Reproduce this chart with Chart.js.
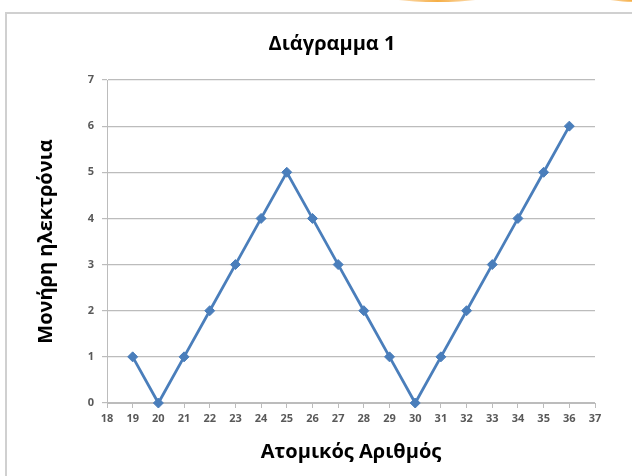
<!DOCTYPE html>
<html>
<head>
<meta charset="utf-8">
<script src="https://cdn.jsdelivr.net/npm/chart.js@4/dist/chart.umd.min.js"></script>
<style>
  html, body { margin: 0; padding: 0; background: #ffffff; }
  #wrap { position: relative; width: 632px; height: 476px; }
</style>
</head>
<body>
<div id="wrap"><canvas id="c" width="632" height="476"></canvas></div>
<script>
// Atomic number (x) and unpaired electrons (y)
const atomicNumbers = [19, 20, 21, 22, 23, 24, 25, 26, 27, 28, 29, 30, 31, 32, 33, 34, 35, 36];
const unpairedElectrons = [1, 0, 1, 2, 3, 4, 5, 4, 3, 2, 1, 0, 1, 2, 3, 4, 5, 6];
const xRange = [18, 37];
const yRange = [0, 7];

const titleText = 'Διάγραμμα 1';
const xTitle = 'Ατομικός Αριθμός';
const yTitle = 'Μονήρη ηλεκτρόνια';

const points = atomicNumbers.map((n, i) => ({ x: n, y: unpairedElectrons[i] }));

const FONT = '"Open Sans", "DejaVu Sans", sans-serif';
const TICK_FONT = '"Open Sans", "DejaVu Sans", sans-serif';
const AXIS_GRAY = '#bcbcbc';
const TICK_COLOR = '#595959';

// Frame around the chart, the heading and the orange edge above it
const framePlugin = {
  id: 'frame',
  beforeDraw(chart) {
    const ctx = chart.ctx;
    ctx.save();
    ctx.fillStyle = '#ffffff';
    ctx.fillRect(0, 0, chart.width, chart.height);
    // orange shapes peeking in from the top edge
    const g1 = ctx.createLinearGradient(380, 0, 495, 0);
    g1.addColorStop(0, 'rgba(247,180,90,0.2)');
    g1.addColorStop(0.5, 'rgba(245,170,60,0.95)');
    g1.addColorStop(1, 'rgba(247,180,90,0.2)');
    ctx.fillStyle = g1;
    ctx.beginPath();
    ctx.ellipse(437, -6, 58, 8, 0, 0, Math.PI * 2);
    ctx.fill();
    const g2 = ctx.createLinearGradient(595, 0, 632, 0);
    g2.addColorStop(0, 'rgba(247,180,90,0.2)');
    g2.addColorStop(1, 'rgba(245,170,60,0.95)');
    ctx.fillStyle = g2;
    ctx.beginPath();
    ctx.ellipse(640, -6, 45, 8, 0, 0, Math.PI * 2);
    ctx.fill();
    // chart frame
    ctx.strokeStyle = '#d0d0d0';
    ctx.lineWidth = 2;
    ctx.strokeRect(6, 13, chart.width + 20, chart.height + 20);
    ctx.restore();
  },
  afterDraw(chart) {
    const ctx = chart.ctx;
    ctx.save();
    ctx.fillStyle = '#000000';
    ctx.font = 'bold 20px ' + FONT;
    ctx.textAlign = 'center';
    ctx.textBaseline = 'middle';
    ctx.fillText(titleText, 332, 44);
    ctx.restore();
  }
};

new Chart(document.getElementById('c'), {
  type: 'line',
  data: {
    datasets: [{
      data: points,
      borderColor: '#4a7ebb',
      backgroundColor: '#4a7ebb',
      borderWidth: 2.8,
      pointStyle: 'rectRot',
      pointRadius: 5,
      pointHoverRadius: 5,
      pointBorderWidth: 1,
      tension: 0,
      clip: false
    }]
  },
  options: {
    responsive: false,
    animation: false,
    events: [],
    layout: { padding: { left: 0, right: 37, top: 80, bottom: 0 } },
    plugins: {
      legend: { display: false },
      tooltip: { enabled: false },
      title: { display: false }
    },
    scales: {
      x: {
        type: 'linear',
        min: xRange[0],
        max: xRange[1],
        afterFit(scale) { scale.height = 73; },
        ticks: {
          stepSize: 1,
          autoSkip: false,
          maxRotation: 0,
          color: TICK_COLOR,
          padding: 4,
          font: { family: TICK_FONT, size: 11, weight: 'bold' }
        },
        grid: {
          drawOnChartArea: false,
          drawTicks: true,
          tickLength: 5,
          color: AXIS_GRAY
        },
        border: { color: AXIS_GRAY, width: 1 },
        title: {
          display: true,
          text: xTitle,
          color: '#000000',
          font: { family: FONT, size: 20, weight: 'bold', lineHeight: 1.2 },
          padding: { top: 0, bottom: 12 }
        }
      },
      y: {
        type: 'linear',
        min: yRange[0],
        max: yRange[1],
        afterFit(scale) { scale.width = 107; },
        ticks: {
          stepSize: 1,
          color: TICK_COLOR,
          padding: 8,
          font: { family: TICK_FONT, size: 11, weight: 'bold' }
        },
        grid: {
          color: AXIS_GRAY,
          lineWidth: 1.2,
          drawTicks: true,
          tickLength: 5
        },
        border: { color: AXIS_GRAY, width: 1 },
        title: {
          display: true,
          text: yTitle,
          color: '#000000',
          font: { family: FONT, size: 20, weight: 'bold', lineHeight: 1.2 },
          padding: { top: 34, bottom: 0 }
        }
      }
    }
  },
  plugins: [framePlugin]
});
</script>
</body>
</html>
